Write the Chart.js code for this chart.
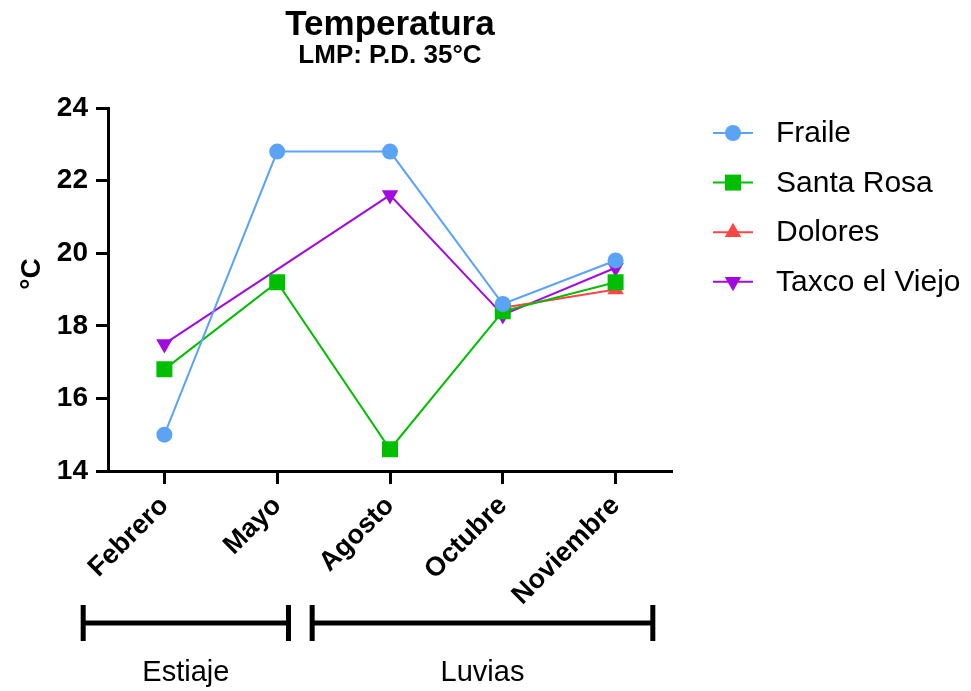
<!DOCTYPE html>
<html>
<head>
<meta charset="utf-8">
<title>Temperatura</title>
<script src="https://cdn.jsdelivr.net/npm/chart.js@4/dist/chart.umd.min.js"></script>
<style>
  html, body { margin: 0; padding: 0; background: #ffffff; }
  #wrap { width: 971px; height: 691px; position: relative; }
</style>
</head>
<body>
<div id="wrap"><canvas id="chart"></canvas></div>
<script>
// Sampling months and the temperature (°C) recorded at each site
const categories = ['Febrero', 'Mayo', 'Agosto', 'Octubre', 'Noviembre'];
const fraile     = [15.0, 22.8, 22.8, 18.6, 19.8];
const santaRosa  = [16.8, 19.2, 14.6, 18.4, 19.2];
const dolores    = [null, null, null, 18.5, 19.0];
const taxco      = [17.5, null, 21.6, 18.3, 19.6];
const yTicks     = [14, 16, 18, 20, 22, 24];

// Seasons, spanned in category-index units along the x axis
const seasonNames = ['Estiaje', 'Luvias'];
const seasonFrom  = [-0.72, 1.31];
const seasonTo    = [1.10, 4.33];

const titleText    = 'Temperatura';
const subtitleText = 'LMP: P.D. 35°C';
const yTitleText   = '°C';

const FONT = "'Liberation Sans', Arial, Helvetica, sans-serif";

const series = [
  { label: 'Fraile',         data: fraile,    color: '#5BA3F4', style: 'circle',   radius: 8,   rotation: 0 },
  { label: 'Santa Rosa',     data: santaRosa, color: '#00BF00', style: 'rect',     radius: 11.3, rotation: 0 },
  { label: 'Dolores',        data: dolores,   color: '#FF4545', style: 'triangle', radius: 9.5, rotation: 0 },
  { label: 'Taxco el Viejo', data: taxco,     color: '#A20BE0', style: 'triangle', radius: 9.5, rotation: 180 }
];

const datasets = series.map(s => ({
  label: s.label,
  data: s.data,
  borderColor: s.color,
  backgroundColor: s.color,
  borderWidth: 2,
  pointStyle: s.style,
  pointRadius: s.radius,
  pointHoverRadius: s.radius,
  pointRotation: s.rotation,
  pointBorderWidth: 0,
  pointBackgroundColor: s.color,
  pointBorderColor: s.color,
  spanGaps: true,
  tension: 0,
  fill: false
}));

// Titles, y-axis title, legend and season brackets
const decorations = {
  id: 'decorations',
  afterDraw(chart) {
    const ctx = chart.ctx;
    const area = chart.chartArea;
    const xs = chart.scales.x;
    const cx = (area.left + area.right) / 2;
    ctx.save();
    ctx.fillStyle = '#000';
    ctx.textAlign = 'center';
    ctx.textBaseline = 'alphabetic';
    ctx.font = 'bold 35px ' + FONT;
    ctx.fillText(titleText, cx, 35);
    ctx.font = 'bold 26px ' + FONT;
    ctx.fillText(subtitleText, cx, 63);

    // y axis title
    ctx.save();
    ctx.translate(32, 274);
    ctx.rotate(-Math.PI / 2);
    ctx.textBaseline = 'middle';
    ctx.font = 'bold 28px ' + FONT;
    ctx.fillText(yTitleText, 0, 0);
    ctx.restore();

    // legend
    const lx0 = 713, lx1 = 753, tx = 776, ly0 = 133, step = 49.6;
    series.forEach((s, i) => {
      const y = ly0 + i * step;
      ctx.strokeStyle = s.color;
      ctx.lineWidth = 2;
      ctx.beginPath();
      ctx.moveTo(lx0, y);
      ctx.lineTo(lx1, y);
      ctx.stroke();
      ctx.fillStyle = s.color;
      Chart.helpers.drawPoint(ctx, {
        pointStyle: s.style, radius: s.radius, rotation: s.rotation, borderWidth: 0
      }, (lx0 + lx1) / 2, y);
      ctx.fillStyle = '#000';
      ctx.textAlign = 'left';
      ctx.textBaseline = 'middle';
      ctx.font = '30px ' + FONT;
      ctx.fillText(s.label, tx, y + 1);
    });

    // season brackets
    const by = 623, capTop = 605, capBot = 641;
    ctx.strokeStyle = '#000';
    ctx.lineCap = 'butt';
    seasonNames.forEach((name, i) => {
      const a = xs.getPixelForValue(seasonFrom[i]);
      const b = xs.getPixelForValue(seasonTo[i]);
      ctx.lineWidth = 5;
      ctx.beginPath();
      ctx.moveTo(a, by); ctx.lineTo(b, by);
      ctx.moveTo(a, capTop); ctx.lineTo(a, capBot);
      ctx.moveTo(b, capTop); ctx.lineTo(b, capBot);
      ctx.stroke();
      ctx.fillStyle = '#000';
      ctx.textAlign = 'center';
      ctx.textBaseline = 'alphabetic';
      ctx.font = '29px ' + FONT;
      ctx.fillText(name, (a + b) / 2, 681);
    });
    ctx.restore();
  }
};

new Chart(document.getElementById('chart'), {
  type: 'line',
  data: { labels: categories, datasets },
  options: {
    responsive: true,
    maintainAspectRatio: false,
    animation: false,
    devicePixelRatio: 1,
    layout: { padding: { top: 108, right: 299, bottom: 0, left: 0 } },
    plugins: {
      legend: { display: false },
      title: { display: false },
      tooltip: { enabled: false }
    },
    scales: {
      x: {
        type: 'category',
        offset: true,
        afterFit(scale) { scale.height = 220; },
        grid: {
          display: true, drawOnChartArea: false, drawTicks: true,
          tickLength: 13, tickWidth: 3, tickColor: '#000', offset: false
        },
        border: { display: true, width: 3, color: '#000' },
        ticks: {
          color: '#000', minRotation: 45, maxRotation: 45, autoSkip: false, padding: 6,
          font: { family: FONT, size: 27, weight: 'bold' }
        }
      },
      y: {
        min: 14, max: 24,
        afterFit(scale) { scale.width = 108; },
        afterBuildTicks(scale) { scale.ticks = yTicks.map(v => ({ value: v })); },
        grid: {
          display: true, drawOnChartArea: false, drawTicks: true,
          tickLength: 12, tickWidth: 3, tickColor: '#000'
        },
        border: { display: true, width: 3, color: '#000' },
        ticks: {
          color: '#000', padding: 8,
          font: { family: FONT, size: 28, weight: 'bold' }
        }
      }
    }
  },
  plugins: [decorations]
});
</script>
</body>
</html>
